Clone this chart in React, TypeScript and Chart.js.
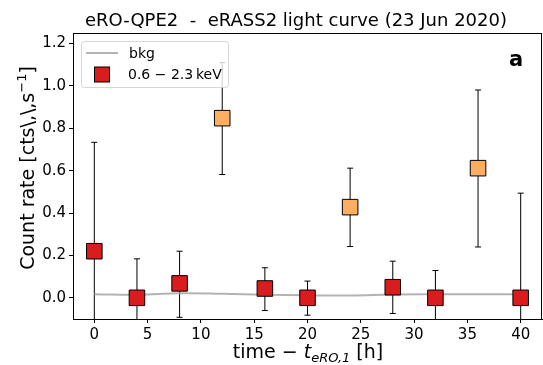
import React, { useEffect, useRef } from "react";
import { Chart, registerables } from "chart.js";

Chart.register(...registerables);

// Observation epochs (hours since first eROSITA pass)
const hours = [0, 4, 8, 12, 16, 20, 24, 28, 32, 36, 40];
// Source count rate, 0.6-2.3 keV
const rate = [0.22, 0.0, 0.068, 0.848, 0.044, 0.0, 0.428, 0.05, 0.0, 0.612, 0.0];
// Upper / lower ends of the error bars
const errHigh = [0.734, 0.184, 0.22, 1.11, 0.142, 0.079, 0.612, 0.173, 0.129, 0.981, 0.494];
const errLow = [-0.29, -0.184, -0.092, 0.582, -0.06, -0.082, 0.242, -0.074, -0.129, 0.24, -0.494];
// Points caught during an eruption
const inFlare = [false, false, false, true, false, false, true, false, false, true, false];
// Background rate
const bkg = [0.017, 0.014, 0.021, 0.019, 0.015, 0.012, 0.011, 0.016, 0.017, 0.017, 0.017];

const xTicks = [0, 5, 10, 15, 20, 25, 30, 35, 40];
const yTicks = [0, 0.2, 0.4, 0.6, 0.8, 1.0, 1.2];

const FONT = '"DejaVu Sans", sans-serif';
const RED = "#d91c1e";
const ORANGE = "#fdae61";
const BKG_COLOR = "rgba(160,160,160,0.8)";

const errorBars = {
  id: "errorBars",
  beforeDatasetsDraw(chart: any) {
    const { ctx, chartArea, scales } = chart;
    const x = scales.x;
    const y = scales.y;
    ctx.save();
    ctx.beginPath();
    ctx.rect(chartArea.left, chartArea.top, chartArea.right - chartArea.left, chartArea.bottom - chartArea.top);
    ctx.clip();
    ctx.strokeStyle = "#000";
    ctx.lineWidth = 1;
    hours.forEach((h, i) => {
      const px = x.getPixelForValue(h);
      const top = y.getPixelForValue(errHigh[i]);
      const bot = y.getPixelForValue(errLow[i]);
      ctx.beginPath();
      ctx.moveTo(px, top);
      ctx.lineTo(px, bot);
      ctx.moveTo(px - 3, top);
      ctx.lineTo(px + 3, top);
      ctx.moveTo(px - 3, bot);
      ctx.lineTo(px + 3, bot);
      ctx.stroke();
    });
    ctx.restore();
  },
};

const decorations = {
  id: "decorations",
  afterDraw(chart: any) {
    const { ctx, chartArea } = chart;
    ctx.save();

    // axes frame
    ctx.strokeStyle = "#000";
    ctx.lineWidth = 1;
    ctx.strokeRect(
      Math.round(chartArea.left) + 0.5,
      Math.round(chartArea.top) + 0.5,
      Math.round(chartArea.right - chartArea.left) - 1,
      Math.round(chartArea.bottom - chartArea.top)
    );

    // legend
    const lx = 81.5, ly = 41.5, lw = 147, lh = 46, r = 3;
    ctx.beginPath();
    ctx.moveTo(lx + r, ly);
    ctx.arcTo(lx + lw, ly, lx + lw, ly + lh, r);
    ctx.arcTo(lx + lw, ly + lh, lx, ly + lh, r);
    ctx.arcTo(lx, ly + lh, lx, ly, r);
    ctx.arcTo(lx, ly, lx + lw, ly, r);
    ctx.closePath();
    ctx.fillStyle = "rgba(255,255,255,0.8)";
    ctx.fill();
    ctx.strokeStyle = "rgba(204,204,204,0.8)";
    ctx.stroke();

    ctx.strokeStyle = BKG_COLOR;
    ctx.lineWidth = 2;
    ctx.beginPath();
    ctx.moveTo(86, 53);
    ctx.lineTo(118, 53);
    ctx.stroke();

    ctx.fillStyle = RED;
    ctx.fillRect(94.5, 67, 15, 15);
    ctx.strokeStyle = "#000";
    ctx.lineWidth = 1;
    ctx.strokeRect(94.5, 67, 15, 15);

    ctx.fillStyle = "#000";
    ctx.font = `14px ${FONT}`;
    ctx.textAlign = "left";
    ctx.textBaseline = "alphabetic";
    ctx.fillText("bkg", 129, 58);
    ctx.fillText("0.6 \u2212 2.3\u2009keV", 128, 79);

    // panel letter
    ctx.font = `bold 21px ${FONT}`;
    ctx.textAlign = "center";
    ctx.fillText("a", 516, 66);

    // title
    ctx.font = `18px ${FONT}`;
    ctx.fillText("eRO-QPE2  -  eRASS2 light curve (23 Jun 2020)", 296, 26);

    // x-axis label: time − t_{eRO,1} [h]
    const parts = [
      { t: "time \u2212 ", f: `19px ${FONT}`, dy: 0 },
      { t: "t", f: `italic 19px ${FONT}`, dy: 0 },
      { t: "eRO,1", f: `italic 13px ${FONT}`, dy: 4 },
      { t: " [h]", f: `19px ${FONT}`, dy: 0 },
    ];
    let total = 0;
    parts.forEach((p) => {
      ctx.font = p.f;
      total += ctx.measureText(p.t).width;
    });
    let cx = 308 - total / 2;
    ctx.textAlign = "left";
    parts.forEach((p) => {
      ctx.font = p.f;
      ctx.fillText(p.t, cx, 358 + p.dy);
      cx += ctx.measureText(p.t).width;
    });

    // y-axis label: Count rate [cts\,\,s^{-1}]
    ctx.translate(34, 168);
    ctx.rotate(-Math.PI / 2);
    const yparts = [
      { t: "Count rate [cts\\,\\,s", f: `19px ${FONT}`, dy: 0 },
      { t: "\u22121", f: `13px ${FONT}`, dy: -8 },
      { t: "]", f: `19px ${FONT}`, dy: 0 },
    ];
    total = 0;
    yparts.forEach((p) => {
      ctx.font = p.f;
      total += ctx.measureText(p.t).width;
    });
    cx = -total / 2;
    yparts.forEach((p) => {
      ctx.font = p.f;
      ctx.fillText(p.t, cx, p.dy);
      cx += ctx.measureText(p.t).width;
    });

    ctx.restore();
  },
};

export default function App() {
  const ref = useRef<HTMLCanvasElement>(null);

  useEffect(() => {
    document.body.style.margin = "0";
    const chart = new Chart(ref.current!, {
      type: "scatter",
      data: {
        datasets: [
          {
            label: "0.6 - 2.3 keV",
            data: hours.map((h, i) => ({ x: h, y: rate[i] })),
            showLine: false,
            pointStyle: "rect",
            pointRadius: 11,
            pointHoverRadius: 11,
            pointBackgroundColor: inFlare.map((f) => (f ? ORANGE : RED)),
            pointBorderColor: "#000",
            pointBorderWidth: 1,
            order: 0,
          },
          {
            label: "bkg",
            data: hours.map((h, i) => ({ x: h, y: bkg[i] })),
            showLine: true,
            borderColor: BKG_COLOR,
            borderWidth: 2,
            pointRadius: 0,
            tension: 0.4,
            order: 1,
          },
        ],
      },
      options: {
        animation: false,
        responsive: false,
        devicePixelRatio: 1,
        layout: { autoPadding: false, padding: { top: 33, right: 1, left: 0, bottom: 0 } },
        plugins: {
          legend: { display: false },
          title: { display: false },
          tooltip: { enabled: false },
        },
        scales: {
          x: {
            type: "linear",
            min: -2,
            max: 42,
            afterBuildTicks: (s: any) => {
              s.ticks = xTicks.map((v) => ({ value: v }));
            },
            afterFit: (s: any) => {
              s.height = 46;
              s.paddingLeft = 0;
              s.paddingRight = 0;
            },
            ticks: {
              color: "#000",
              font: { family: FONT, size: 15 },
              padding: 3,
              maxRotation: 0,
              callback: (v: any) => String(v),
            },
            grid: { drawOnChartArea: false, drawTicks: true, tickLength: 4, color: "#000" },
            border: { display: true, color: "#000" },
          },
          y: {
            type: "linear",
            min: -0.1,
            max: 1.25,
            afterBuildTicks: (s: any) => {
              s.ticks = yTicks.map((v) => ({ value: v }));
            },
            afterFit: (s: any) => {
              s.width = 73;
              s.paddingTop = 0;
              s.paddingBottom = 0;
            },
            ticks: {
              color: "#000",
              font: { family: FONT, size: 15 },
              padding: 3,
              callback: (v: any) => Number(v).toFixed(1),
            },
            grid: { drawOnChartArea: false, drawTicks: true, tickLength: 4, color: "#000" },
            border: { display: true, color: "#000" },
          },
        },
      },
      plugins: [errorBars, decorations],
    });
    return () => chart.destroy();
  }, []);

  return (
    <div style={{ position: "fixed", left: 0, top: 0, width: 543, height: 365, background: "#fff" }}>
      <canvas ref={ref} width={543} height={365} />
    </div>
  );
}
